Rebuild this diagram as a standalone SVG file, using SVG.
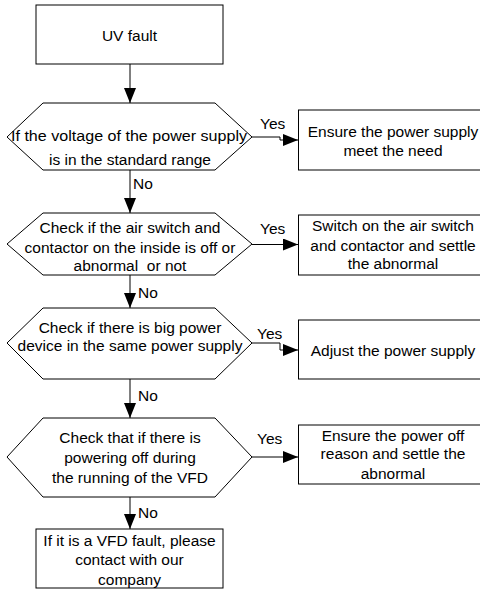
<svg xmlns="http://www.w3.org/2000/svg" width="480" height="589" viewBox="0 0 480 589">
<style>
.s{fill:#fff;stroke:#000;stroke-width:1}
.t{font-family:"Liberation Sans",Arial,sans-serif;font-size:15.5px;fill:#000;text-anchor:middle}
.l{font-family:"Liberation Sans",Arial,sans-serif;font-size:15.5px;fill:#000}
.c{fill:none;stroke:#000;stroke-width:1}
</style>
<defs>
<marker id="ah" markerUnits="userSpaceOnUse" markerWidth="15" markerHeight="12" refX="15" refY="6" orient="auto">
<path d="M0,0 L15,6 L0,12 Z" fill="#000"/>
</marker>
</defs>
<rect width="480" height="589" fill="#fff"/>
<g id="connectors">
<path class="c" d="M130,64 V103" marker-end="url(#ah)"/>
<path class="c" d="M252,137 H280 V140 H298" marker-end="url(#ah)"/>
<path class="c" d="M130,170 V213" marker-end="url(#ah)"/>
<path class="c" d="M252,244.5 H298" marker-end="url(#ah)"/>
<path class="c" d="M130,275 V308" marker-end="url(#ah)"/>
<path class="c" d="M252,343 H280 V350 H298" marker-end="url(#ah)"/>
<path class="c" d="M130,379 V418" marker-end="url(#ah)"/>
<path class="c" d="M252,457 H298" marker-end="url(#ah)"/>
<path class="c" d="M130,497 V529" marker-end="url(#ah)"/>
<text class="l" x="260" y="129">Yes</text>
<text class="l" x="260" y="233.5">Yes</text>
<text class="l" x="257" y="338.5">Yes</text>
<text class="l" x="257" y="443.5">Yes</text>
<text class="l" x="133" y="188.5">No</text>
<text class="l" x="138" y="297.5">No</text>
<text class="l" x="138" y="400.5">No</text>
<text class="l" x="138" y="517.5">No</text>
</g>
<g id="start">
<rect class="s" x="36" y="5" width="187" height="59"/>
<text class="t" x="129.5" y="40.5">UV fault</text>
</g>
<g id="d1">
<polygon class="s" points="7,137 43,103 215,103 252,137 215,170 43,170"/>
<text class="t" x="129" y="140.5" textLength="236" lengthAdjust="spacingAndGlyphs">If the voltage of the power supply</text>
<text class="t" x="130" y="165">is in the standard range</text>
</g>
<g id="r1">
<rect class="s" x="298.5" y="110" width="182" height="60"/>
<text class="t" x="393" y="136.5">Ensure the power supply</text>
<text class="t" x="393" y="155.5">meet the need</text>
</g>
<g id="d2">
<polygon class="s" points="7,244 43,213 215,213 252,244 215,275 43,275"/>
<text class="t" x="130" y="232.5">Check if the air switch and</text>
<text class="t" x="130" y="252.5">contactor on the inside is off or</text>
<text class="t" x="130" y="270.5" style="white-space:pre">abnormal  or not</text>
</g>
<g id="r2">
<rect class="s" x="298.5" y="215" width="182" height="60"/>
<text class="t" x="393" y="230.5">Switch on the air switch</text>
<text class="t" x="393" y="250.5">and contactor and settle</text>
<text class="t" x="393" y="268.5">the abnormal</text>
</g>
<g id="d3">
<polygon class="s" points="7,343 43,308 215,308 252,343 215,379 43,379"/>
<text class="t" x="130" y="332.5">Check if there is big power</text>
<text class="t" x="130" y="350.5">device in the same power supply</text>
</g>
<g id="r3">
<rect class="s" x="298.5" y="320" width="182" height="59"/>
<text class="t" x="393" y="355.5">Adjust the power supply</text>
</g>
<g id="d4">
<polygon class="s" points="7,457 43,418 215,418 252,457 215,497 43,497"/>
<text class="t" x="130" y="442.5">Check that if there is</text>
<text class="t" x="130" y="462.5">powering off during</text>
<text class="t" x="130" y="482.5">the running of the VFD</text>
</g>
<g id="r4">
<rect class="s" x="298.5" y="425" width="182" height="59"/>
<text class="t" x="393" y="440.5">Ensure the power off</text>
<text class="t" x="393" y="458.5">reason and settle the</text>
<text class="t" x="393" y="478.5">abnormal</text>
</g>
<g id="end">
<rect class="s" x="36" y="529" width="187" height="59"/>
<text class="t" x="129.5" y="545.5">If it is a VFD fault, please</text>
<text class="t" x="129.5" y="564.5">contact with our</text>
<text class="t" x="129.5" y="584.5">company</text>
</g>
</svg>
